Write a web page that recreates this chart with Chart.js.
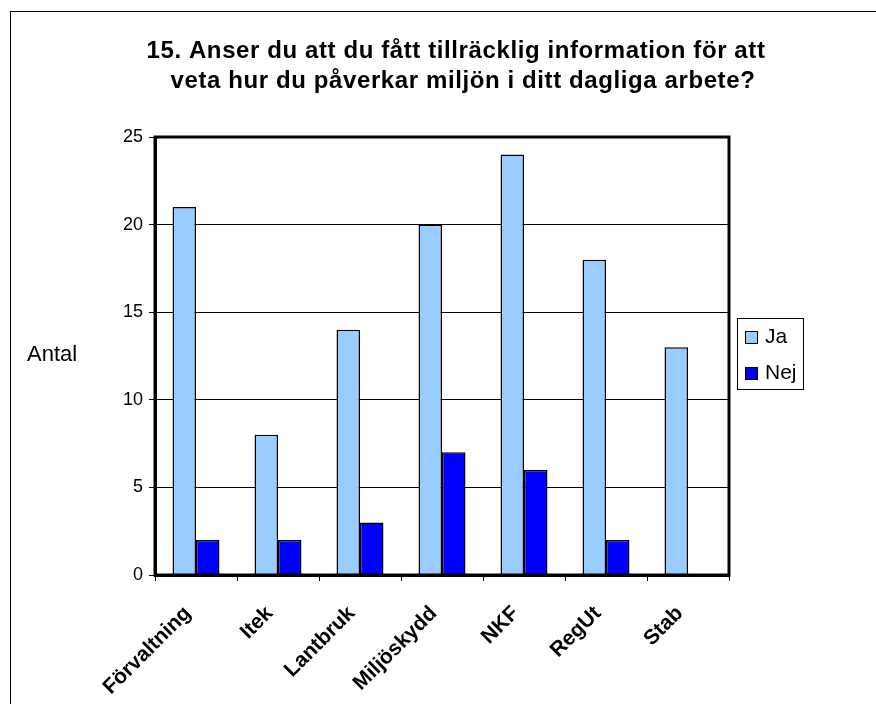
<!DOCTYPE html>
<html>
<head>
<meta charset="utf-8">
<script src="https://cdn.jsdelivr.net/npm/chart.js@4"></script>
<style>
  html, body { margin: 0; padding: 0; background: #fff; }
  #wrap { width: 876px; height: 704px; }
</style>
</head>
<body>
<div id="wrap"><canvas id="chart" width="876" height="704"></canvas></div>
<script>
// Data
const categories = ["Förvaltning", "Itek", "Lantbruk", "Miljöskydd", "NKF", "RegUt", "Stab"];
const jaValues = [21, 8, 14, 20, 24, 18, 13];
const nejValues = [2, 2, 3, 7, 6, 2, 0];
const titleLines = ["15. Anser du att du fått tillräcklig information för att", "veta hur du påverkar miljön i ditt dagliga arbete?"];
const yLabel = "Antal";

const FONT = "'Liberation Sans', Arial, sans-serif";

// frame, plot border, title, axis label and legend
const extras = {
  id: "extras",
  beforeDraw(chart) {
    const ctx = chart.ctx;
    ctx.save();
    ctx.strokeStyle = "#000";
    ctx.lineWidth = 1;
    ctx.strokeRect(10.5, 11.5, 1000, 1000);
    ctx.restore();
  },
  afterDatasetsDraw(chart) {
    const ctx = chart.ctx;
    const a = chart.chartArea;
    ctx.save();
    ctx.strokeStyle = "#000";
    ctx.lineWidth = 3;
    ctx.strokeRect(a.left, a.top, a.right - a.left, a.bottom - a.top);
    ctx.restore();
  },
  afterDraw(chart) {
    const ctx = chart.ctx;
    ctx.save();
    ctx.fillStyle = "#000";

    // title
    ctx.font = "bold 24px " + FONT;
    ctx.letterSpacing = "0.6px";
    ctx.textAlign = "center";
    ctx.textBaseline = "middle";
    ctx.fillText(titleLines[0], 456, 51);
    ctx.fillText(titleLines[1], 463, 81);
    ctx.letterSpacing = "0px";

    // y axis label
    ctx.font = "22px " + FONT;
    ctx.textAlign = "left";
    ctx.fillText(yLabel, 27, 355);

    // legend
    ctx.lineWidth = 1;
    ctx.strokeStyle = "#000";
    ctx.strokeRect(737.5, 318.5, 66, 71);
    chart.data.datasets.forEach((ds, i) => {
      const y = 337 + i * 36;
      ctx.fillStyle = ds.backgroundColor;
      ctx.fillRect(745, y - 6, 13, 13);
      ctx.strokeRect(745.5, y - 5.5, 12, 12);
      ctx.fillStyle = "#000";
      ctx.font = "21px " + FONT;
      ctx.fillText(ds.label, 765, y);
    });
    ctx.restore();
  }
};

new Chart(document.getElementById("chart"), {
  type: "bar",
  data: {
    labels: categories,
    datasets: [
      { label: "Ja", data: jaValues, backgroundColor: "#99CCFF", borderColor: "#000", borderWidth: 1.5 },
      { label: "Nej", data: nejValues, backgroundColor: "#0000FF", borderColor: "#000", borderWidth: 1.5 }
    ]
  },
  options: {
    responsive: false,
    animation: false,
    layout: { padding: { top: 137, right: 147, left: 0, bottom: 0 } },
    datasets: { bar: { categoryPercentage: 0.573, barPercentage: 1 } },
    plugins: {
      legend: { display: false },
      title: { display: false },
      tooltip: { enabled: false }
    },
    scales: {
      x: {
        afterFit(scale) { scale.height = 129; },
        grid: { offset: true, drawOnChartArea: false, drawTicks: true, tickLength: 6, color: "#000", lineWidth: 1 },
        border: { color: "#000", width: 3 },
        ticks: {
          color: "#000",
          font: { family: FONT, size: 21, weight: "bold" },
          maxRotation: 45,
          minRotation: 45,
          padding: 12,
          // trailing gap pulls the rotated text a little left of the tick
          callback: (v, i) => categories[i] + "  "
        }
      },
      y: {
        min: 0,
        max: 25,
        afterFit(scale) { scale.width = 155; },
        grid: { color: "#000", lineWidth: 1, tickLength: 6 },
        border: { color: "#000", width: 3 },
        ticks: {
          stepSize: 5,
          color: "#000",
          font: { family: FONT, size: 18 },
          padding: 6
        }
      }
    }
  },
  plugins: [extras]
});
</script>
</body>
</html>
